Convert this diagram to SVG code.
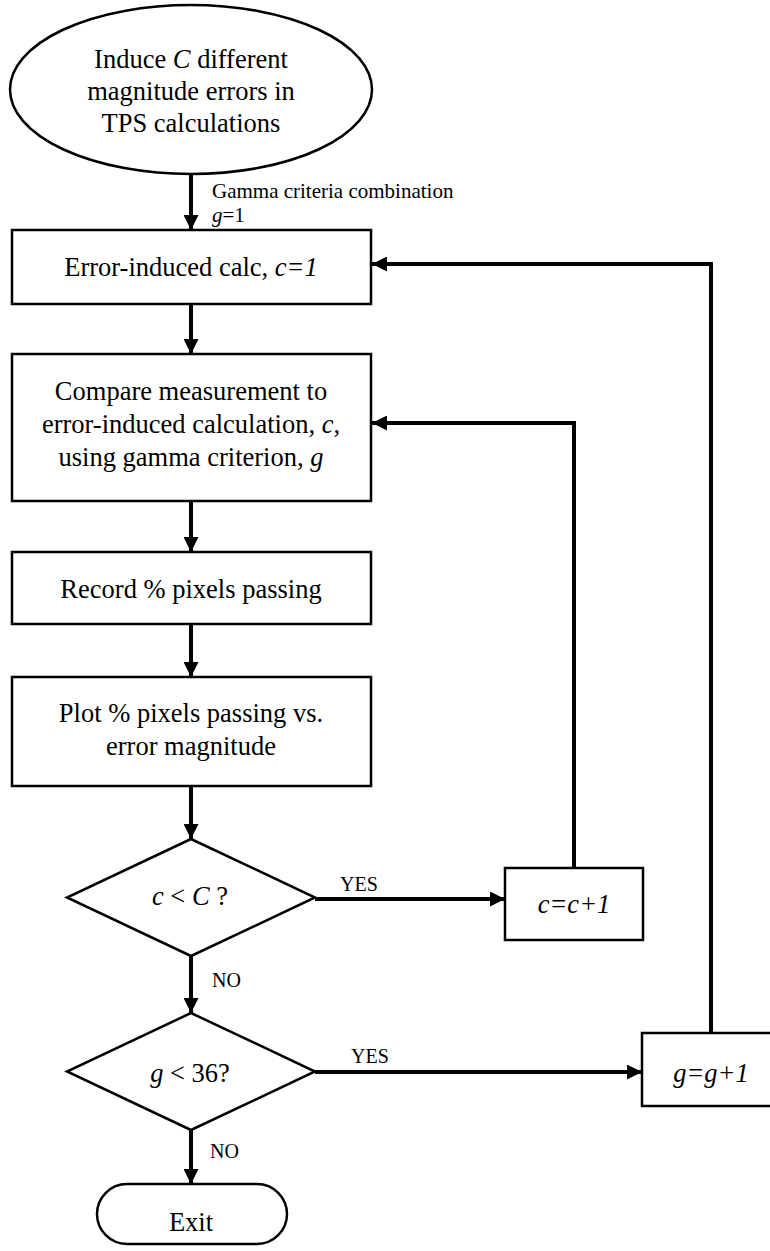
<svg xmlns="http://www.w3.org/2000/svg" width="770" height="1251" viewBox="0 0 770 1251">
  <style>
    .shape { fill: #fff; stroke: #000; stroke-width: 2.5; }
    .conn { fill: none; stroke: #000; stroke-width: 4; }
    .t { font-family: "Liberation Serif", serif; font-size: 26.5px; fill: #000; text-anchor: middle; }
    .lbl { font-family: "Liberation Serif", serif; font-size: 20px; fill: #000; }
    .note { font-size: 21px; }
    .i { font-style: italic; }
  </style>
  <defs>
    <marker id="arrow" markerUnits="userSpaceOnUse" markerWidth="16" markerHeight="15" refX="15" refY="7.5" orient="auto">
      <path d="M0,0 L15,7.5 L0,15 z" fill="#000"/>
    </marker>
  </defs>
  <rect width="770" height="1251" fill="#fff"/>

  <g id="connectors">
    <line class="conn" x1="191" y1="174" x2="191" y2="230" marker-end="url(#arrow)"/>
    <line class="conn" x1="191" y1="304" x2="191" y2="354" marker-end="url(#arrow)"/>
    <line class="conn" x1="191" y1="501" x2="191" y2="552" marker-end="url(#arrow)"/>
    <line class="conn" x1="191" y1="624" x2="191" y2="677" marker-end="url(#arrow)"/>
    <line class="conn" x1="191" y1="786" x2="191" y2="839" marker-end="url(#arrow)"/>
    <line class="conn" x1="191" y1="956" x2="191" y2="1013" marker-end="url(#arrow)"/>
    <line class="conn" x1="191" y1="1130" x2="191" y2="1184" marker-end="url(#arrow)"/>
    <line class="conn" x1="315" y1="899" x2="505" y2="899" marker-end="url(#arrow)"/>
    <line class="conn" x1="315" y1="1072" x2="642" y2="1072" marker-end="url(#arrow)"/>
    <polyline class="conn" points="574,868 574,423 372,423" marker-end="url(#arrow)"/>
    <polyline class="conn" points="711,1033 711,264 372,264" marker-end="url(#arrow)"/>
    <text class="lbl note" x="212" y="198">Gamma criteria combination</text>
    <text class="lbl note" x="212" y="222"><tspan class="i">g</tspan>=1</text>
    <text class="lbl" x="340" y="891">YES</text>
    <text class="lbl" x="351" y="1063">YES</text>
    <text class="lbl" x="212" y="987">NO</text>
    <text class="lbl" x="210" y="1158">NO</text>
  </g>

  <g id="start">
    <ellipse class="shape" cx="191" cy="89.5" rx="181" ry="84.5"/>
    <text class="t" x="191" y="68">Induce <tspan class="i">C</tspan> different</text>
    <text class="t" x="191" y="100">magnitude errors in</text>
    <text class="t" x="191" y="132">TPS calculations</text>
  </g>

  <g id="calc">
    <rect class="shape" x="12" y="230" width="359" height="74"/>
    <text class="t" x="191" y="276">Error-induced calc, <tspan class="i">c=1</tspan></text>
  </g>

  <g id="compare">
    <rect class="shape" x="12" y="354" width="359" height="147"/>
    <text class="t" x="191" y="400">Compare measurement to</text>
    <text class="t" x="191" y="433">error-induced calculation, <tspan class="i">c</tspan>,</text>
    <text class="t" x="191" y="466">using gamma criterion, <tspan class="i">g</tspan></text>
  </g>

  <g id="record">
    <rect class="shape" x="12" y="552" width="359" height="72"/>
    <text class="t" x="191" y="598">Record % pixels passing</text>
  </g>

  <g id="plot">
    <rect class="shape" x="12" y="677" width="359" height="109"/>
    <text class="t" x="191" y="722">Plot % pixels passing vs.</text>
    <text class="t" x="191" y="755">error magnitude</text>
  </g>

  <g id="check-c">
    <polygon class="shape" points="191,839 315,897.5 191,956 67,897.5"/>
    <text class="t" x="190" y="905"><tspan class="i">c</tspan> &lt; <tspan class="i">C</tspan> ?</text>
  </g>

  <g id="inc-c">
    <rect class="shape" x="505" y="868" width="138" height="72"/>
    <text class="t i" x="574" y="913">c=c+1</text>
  </g>

  <g id="check-g">
    <polygon class="shape" points="191,1013 315,1071.5 191,1130 67,1071.5"/>
    <text class="t" x="190" y="1082"><tspan class="i">g</tspan> &lt; 36?</text>
  </g>

  <g id="inc-g">
    <rect class="shape" x="642" y="1033" width="138" height="73"/>
    <text class="t i" x="711" y="1082">g=g+1</text>
  </g>

  <g id="exit">
    <rect class="shape" x="97" y="1184" width="190" height="60" rx="30" ry="30"/>
    <text class="t" x="191" y="1231">Exit</text>
  </g>
</svg>
